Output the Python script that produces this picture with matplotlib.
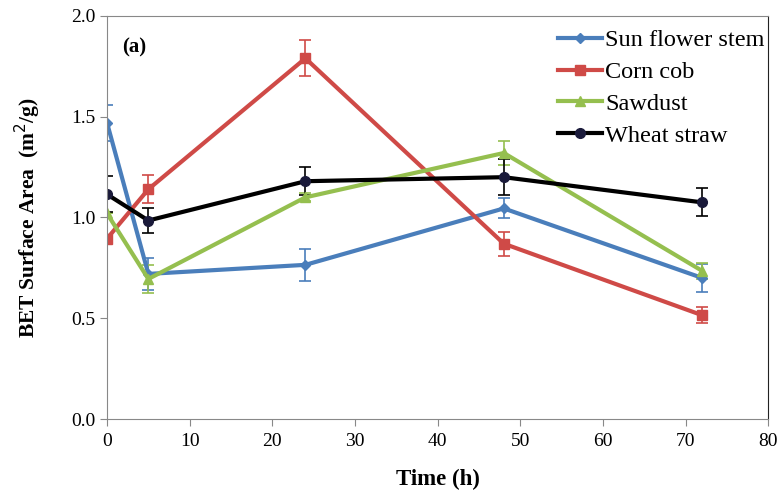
import matplotlib
matplotlib.use("Agg")
import matplotlib.pyplot as plt

plt.rcParams['font.family'] = ['Liberation Serif', 'DejaVu Serif']

time_h = [0, 5, 24, 48, 72]

sunflower = [1.47, 0.72, 0.765, 1.045, 0.70]
sunflower_err = [0.09, 0.08, 0.08, 0.05, 0.07]
corn = [0.895, 1.14, 1.79, 0.87, 0.515]
corn_err = [0.0, 0.07, 0.09, 0.06, 0.04]
sawdust = [1.02, 0.695, 1.10, 1.32, 0.735]
sawdust_err = [0.0, 0.07, 0.02, 0.06, 0.04]
wheat = [1.115, 0.985, 1.18, 1.20, 1.075]
wheat_err = [0.09, 0.06, 0.07, 0.09, 0.07]

series = [
    ("Sun flower stem", sunflower, sunflower_err, "#4a7ebb", "D", 5),
    ("Corn cob", corn, corn_err, "#cf4a47", "s", 7),
    ("Sawdust", sawdust, sawdust_err, "#95bf4f", "^", 7),
    ("Wheat straw", wheat, wheat_err, "#000000", "o", 7),
]

fig = plt.figure(figsize=(7.84, 4.99), dpi=100)
ax = fig.add_axes([0.1365, 0.1603, 0.8435, 0.8077])

handles = []
for name, y, err, col, mk, ms in series:
    mfc = "#1a1a3a" if col == "#000000" else col
    c = ax.errorbar(time_h, y, yerr=err, color=col, marker=mk, markersize=ms,
                    markerfacecolor=mfc, markeredgecolor=mfc, linewidth=3,
                    elinewidth=1.2, capsize=4, capthick=1.2, label=name)
    handles.append(c[0])

ax.set_xlim(0, 80)
ax.set_ylim(0, 2.0)
ax.set_xticks(range(0, 81, 10))
ax.set_yticks([0, 0.5, 1.0, 1.5, 2.0])
ax.set_yticklabels(["0.0", "0.5", "1.0", "1.5", "2.0"])
ax.tick_params(labelsize=14, direction="out", length=5, color="#888888")
ax.tick_params(axis="x", pad=5)
for s in ["left", "bottom", "top"]:
    ax.spines[s].set_color("#888888")
ax.spines["right"].set_color("#222222")

ax.set_xlabel("Time (h)", fontsize=16.5, fontweight="bold", labelpad=14)
ax.set_ylabel("BET Surface Area  (m$^2$/g)", fontsize=15.5, fontweight="bold", labelpad=20)
ax.text(1.8, 1.845, "(a)", fontsize=15, fontweight="bold", va="center")

# legend sits inside the plot box, nudged right against the frame
ax.legend(handles, [s[0] for s in series], loc="upper right", frameon=False,
          bbox_to_anchor=(1.015, 1.0), fontsize=17.5, handlelength=1.8,
          handletextpad=0.15, labelspacing=0.4, borderaxespad=0.35, borderpad=0.2)

fig.savefig("out.png", dpi=100)
